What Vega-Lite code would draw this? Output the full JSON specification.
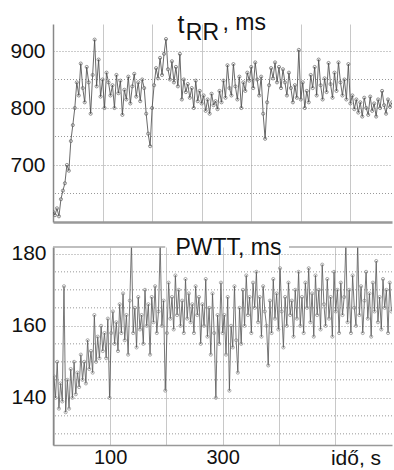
{
  "$schema": "https://vega.github.io/schema/vega-lite/v6.json",
  "padding": {"left": 9, "top": 11, "right": 0, "bottom": 0},
  "background": "white",
  "bounds": "flush",
  "spacing": 25,
  "config": {
    "view": {"stroke": null},
    "font": "Liberation Sans",
    "axis": {"labelFont": "Liberation Sans", "labelFontSize": 21, "labelColor": "#111", "title": null, "ticks": false, "labelPadding": 8, "domainColor": "#888", "domainWidth": 1.5, "labelFlush": false, "labelOverlap": false}
  },
  "datasets": {
    "rr": [
      {"t":0,"v":618},{"t":4,"v":612},{"t":8,"v":624},{"t":12,"v":610},{"t":16,"v":640},{"t":20,"v":655},{"t":24,"v":668},{"t":28,"v":700},{"t":32,"v":690},{"t":36,"v":742},{"t":40,"v":770},{"t":44,"v":800},{"t":48,"v":845},{"t":52,"v":822},{"t":56,"v":878},{"t":60,"v":835},{"t":64,"v":810},{"t":68,"v":872},{"t":72,"v":845},{"t":76,"v":790},{"t":80,"v":858},{"t":84,"v":920},{"t":88,"v":838},{"t":92,"v":885},{"t":96,"v":820},{"t":100,"v":850},{"t":104,"v":800},{"t":108,"v":862},{"t":112,"v":845},{"t":116,"v":822},{"t":120,"v":840},{"t":124,"v":800},{"t":128,"v":858},{"t":132,"v":826},{"t":136,"v":848},{"t":140,"v":788},{"t":144,"v":832},{"t":148,"v":815},{"t":152,"v":855},{"t":156,"v":808},{"t":160,"v":838},{"t":164,"v":860},{"t":168,"v":820},{"t":172,"v":845},{"t":176,"v":812},{"t":180,"v":850},{"t":184,"v":835},{"t":188,"v":790},{"t":192,"v":755},{"t":196,"v":733},{"t":200,"v":800},{"t":204,"v":840},{"t":208,"v":870},{"t":212,"v":852},{"t":216,"v":888},{"t":220,"v":858},{"t":224,"v":895},{"t":228,"v":921},{"t":232,"v":868},{"t":236,"v":850},{"t":240,"v":882},{"t":244,"v":845},{"t":248,"v":872},{"t":252,"v":838},{"t":256,"v":895},{"t":260,"v":815},{"t":264,"v":850},{"t":268,"v":828},{"t":272,"v":842},{"t":276,"v":818},{"t":280,"v":835},{"t":284,"v":800},{"t":288,"v":848},{"t":292,"v":812},{"t":296,"v":830},{"t":300,"v":808},{"t":304,"v":822},{"t":308,"v":795},{"t":312,"v":815},{"t":316,"v":790},{"t":320,"v":825},{"t":324,"v":805},{"t":328,"v":812},{"t":332,"v":798},{"t":336,"v":830},{"t":340,"v":810},{"t":344,"v":848},{"t":348,"v":818},{"t":352,"v":875},{"t":356,"v":835},{"t":360,"v":822},{"t":364,"v":877},{"t":368,"v":838},{"t":372,"v":815},{"t":376,"v":855},{"t":380,"v":800},{"t":384,"v":845},{"t":388,"v":830},{"t":392,"v":862},{"t":396,"v":848},{"t":400,"v":872},{"t":404,"v":835},{"t":408,"v":880},{"t":412,"v":850},{"t":416,"v":822},{"t":420,"v":855},{"t":424,"v":790},{"t":428,"v":746},{"t":432,"v":810},{"t":436,"v":840},{"t":440,"v":870},{"t":444,"v":852},{"t":448,"v":880},{"t":452,"v":845},{"t":456,"v":872},{"t":460,"v":835},{"t":464,"v":868},{"t":468,"v":845},{"t":472,"v":822},{"t":476,"v":862},{"t":480,"v":835},{"t":484,"v":810},{"t":488,"v":840},{"t":492,"v":818},{"t":496,"v":902},{"t":500,"v":815},{"t":504,"v":845},{"t":508,"v":800},{"t":512,"v":830},{"t":516,"v":810},{"t":520,"v":858},{"t":524,"v":835},{"t":528,"v":872},{"t":532,"v":822},{"t":536,"v":885},{"t":540,"v":840},{"t":544,"v":815},{"t":548,"v":852},{"t":552,"v":828},{"t":556,"v":879},{"t":560,"v":842},{"t":564,"v":818},{"t":568,"v":862},{"t":572,"v":830},{"t":576,"v":880},{"t":580,"v":845},{"t":584,"v":822},{"t":588,"v":850},{"t":592,"v":815},{"t":596,"v":877},{"t":600,"v":808},{"t":604,"v":822},{"t":608,"v":798},{"t":612,"v":815},{"t":616,"v":792},{"t":620,"v":810},{"t":624,"v":785},{"t":628,"v":818},{"t":632,"v":800},{"t":636,"v":788},{"t":640,"v":820},{"t":644,"v":795},{"t":648,"v":808},{"t":652,"v":785},{"t":656,"v":815},{"t":660,"v":800},{"t":664,"v":830},{"t":668,"v":805},{"t":672,"v":790},{"t":676,"v":815},{"t":680,"v":802},{"t":684,"v":810}
    ],
    "pw": [
      {"t":0,"v":146},{"t":3,"v":140},{"t":6,"v":150},{"t":9,"v":137},{"t":12,"v":144},{"t":15,"v":139},{"t":18,"v":171},{"t":21,"v":136},{"t":24,"v":145},{"t":27,"v":137},{"t":30,"v":148},{"t":33,"v":140},{"t":36,"v":150},{"t":39,"v":141},{"t":42,"v":147},{"t":45,"v":143},{"t":48,"v":152},{"t":51,"v":145},{"t":54,"v":150},{"t":57,"v":144},{"t":60,"v":156},{"t":63,"v":148},{"t":66,"v":153},{"t":69,"v":147},{"t":72,"v":163},{"t":75,"v":150},{"t":78,"v":157},{"t":81,"v":151},{"t":84,"v":160},{"t":87,"v":153},{"t":90,"v":158},{"t":93,"v":151},{"t":96,"v":162},{"t":99,"v":140},{"t":102,"v":158},{"t":105,"v":164},{"t":108,"v":155},{"t":111,"v":161},{"t":114,"v":153},{"t":117,"v":166},{"t":120,"v":158},{"t":123,"v":169},{"t":126,"v":156},{"t":129,"v":163},{"t":132,"v":152},{"t":135,"v":167},{"t":138,"v":183},{"t":141,"v":158},{"t":144,"v":165},{"t":147,"v":154},{"t":150,"v":168},{"t":153,"v":159},{"t":156,"v":163},{"t":159,"v":155},{"t":162,"v":170},{"t":165,"v":160},{"t":168,"v":166},{"t":171,"v":152},{"t":174,"v":168},{"t":177,"v":161},{"t":180,"v":171},{"t":183,"v":158},{"t":186,"v":164},{"t":189,"v":183},{"t":192,"v":160},{"t":195,"v":167},{"t":198,"v":142},{"t":201,"v":158},{"t":204,"v":172},{"t":207,"v":162},{"t":210,"v":168},{"t":213,"v":159},{"t":216,"v":174},{"t":219,"v":163},{"t":222,"v":170},{"t":225,"v":160},{"t":228,"v":167},{"t":231,"v":158},{"t":234,"v":173},{"t":237,"v":162},{"t":240,"v":169},{"t":243,"v":161},{"t":246,"v":166},{"t":249,"v":158},{"t":252,"v":171},{"t":255,"v":163},{"t":258,"v":168},{"t":261,"v":155},{"t":264,"v":166},{"t":267,"v":160},{"t":270,"v":173},{"t":273,"v":157},{"t":276,"v":165},{"t":279,"v":152},{"t":282,"v":169},{"t":285,"v":158},{"t":288,"v":140},{"t":291,"v":163},{"t":294,"v":155},{"t":297,"v":172},{"t":300,"v":158},{"t":303,"v":163},{"t":306,"v":152},{"t":309,"v":168},{"t":312,"v":142},{"t":315,"v":160},{"t":318,"v":154},{"t":321,"v":171},{"t":324,"v":156},{"t":327,"v":147},{"t":330,"v":165},{"t":333,"v":155},{"t":336,"v":170},{"t":339,"v":160},{"t":342,"v":174},{"t":345,"v":163},{"t":348,"v":168},{"t":351,"v":158},{"t":354,"v":172},{"t":357,"v":165},{"t":360,"v":175},{"t":363,"v":161},{"t":366,"v":168},{"t":369,"v":157},{"t":372,"v":171},{"t":375,"v":164},{"t":378,"v":160},{"t":381,"v":149},{"t":384,"v":167},{"t":387,"v":158},{"t":390,"v":173},{"t":393,"v":162},{"t":396,"v":169},{"t":399,"v":159},{"t":402,"v":176},{"t":405,"v":164},{"t":408,"v":154},{"t":411,"v":168},{"t":414,"v":160},{"t":417,"v":172},{"t":420,"v":163},{"t":423,"v":167},{"t":426,"v":157},{"t":429,"v":170},{"t":432,"v":162},{"t":435,"v":175},{"t":438,"v":160},{"t":441,"v":168},{"t":444,"v":158},{"t":447,"v":172},{"t":450,"v":165},{"t":453,"v":176},{"t":456,"v":161},{"t":459,"v":169},{"t":462,"v":157},{"t":465,"v":174},{"t":468,"v":163},{"t":471,"v":170},{"t":474,"v":159},{"t":477,"v":177},{"t":480,"v":166},{"t":483,"v":160},{"t":486,"v":173},{"t":489,"v":162},{"t":492,"v":168},{"t":495,"v":157},{"t":498,"v":175},{"t":501,"v":164},{"t":504,"v":170},{"t":507,"v":158},{"t":510,"v":172},{"t":513,"v":163},{"t":516,"v":168},{"t":519,"v":183},{"t":522,"v":161},{"t":525,"v":170},{"t":528,"v":158},{"t":531,"v":174},{"t":534,"v":165},{"t":537,"v":160},{"t":540,"v":183},{"t":543,"v":163},{"t":546,"v":171},{"t":549,"v":158},{"t":552,"v":167},{"t":555,"v":175},{"t":558,"v":162},{"t":561,"v":169},{"t":564,"v":157},{"t":567,"v":172},{"t":570,"v":164},{"t":573,"v":178},{"t":576,"v":161},{"t":579,"v":168},{"t":582,"v":159},{"t":585,"v":173},{"t":588,"v":165},{"t":591,"v":170},{"t":594,"v":158},{"t":597,"v":172},{"t":600,"v":164}
    ]
  },
  "vconcat": [
    {
      "width": 339,
      "height": 198,
      "layer": [
        {
          "data": {"values": [{"g": 650}, {"g": 750}, {"g": 850}]},
          "mark": {"type": "rule", "color": "#999", "strokeDash": [1, 2], "strokeWidth": 1},
          "encoding": {"y": {"field": "g", "type": "quantitative"}}
        },
        {
          "data": {"name": "rr"},
          "mark": {"type": "line", "color": "#444", "strokeWidth": 0.8, "clip": true, "point": {"filled": false, "stroke": "#666", "size": 10, "strokeWidth": 0.7}},
          "encoding": {
            "x": {"field": "t", "type": "quantitative", "scale": {"domain": [0, 684], "nice": false, "zero": false}, "axis": {"values": [100, 200, 300, 400, 500, 600], "labels": false, "grid": true, "gridColor": "#c8c8c8", "gridWidth": 1, "domainColor": "#999", "domainWidth": 2.5}},
            "y": {"field": "v", "type": "quantitative", "scale": {"domain": [600, 947.4], "nice": false, "zero": false}, "axis": {"values": [700, 800, 900], "labels": true, "grid": true, "gridColor": "#999", "gridDash": [1, 2], "gridWidth": 1}}
          }
        },
        {
          "data": {"values": [{"s": "t"}]},
          "mark": {"type": "text", "align": "left", "baseline": "alphabetic", "fontSize": 25, "color": "#111"},
          "encoding": {"x": {"datum": 251, "type": "quantitative"}, "y": {"datum": 931.6, "type": "quantitative"}, "text": {"field": "s"}}
        },
        {
          "data": {"values": [{"s": "RR"}]},
          "mark": {"type": "text", "align": "left", "baseline": "alphabetic", "fontSize": 23, "color": "#111"},
          "encoding": {"x": {"datum": 268, "type": "quantitative"}, "y": {"datum": 919.3, "type": "quantitative"}, "text": {"field": "s"}}
        },
        {
          "data": {"values": [{"s": ", ms"}]},
          "mark": {"type": "text", "align": "left", "baseline": "alphabetic", "fontSize": 23, "color": "#111"},
          "encoding": {"x": {"datum": 342, "type": "quantitative"}, "y": {"datum": 937.5, "type": "quantitative"}, "text": {"field": "s"}}
        }
      ]
    },
    {
      "width": 339,
      "height": 198,
      "layer": [
        {
          "data": {"values": [{"g": 130}, {"g": 135}, {"g": 145}, {"g": 150}, {"g": 155}, {"g": 165}, {"g": 170}, {"g": 175}]},
          "mark": {"type": "rule", "color": "#999", "strokeDash": [1, 2], "strokeWidth": 1},
          "encoding": {"y": {"field": "g", "type": "quantitative"}}
        },
        {
          "data": {"name": "pw"},
          "mark": {"type": "line", "color": "#555", "strokeWidth": 0.8, "clip": true, "point": {"filled": false, "stroke": "#888", "size": 10, "strokeWidth": 0.7}},
          "encoding": {
            "x": {"field": "t", "type": "quantitative", "scale": {"domain": [-1.5, 601], "nice": false, "zero": false}, "axis": {"values": [0, 100, 200, 300, 400, 500], "labelExpr": "datum.value == 100 || datum.value == 300 ? datum.label : ''", "labelPadding": 2, "labelFontSize": 20, "grid": true, "gridColor": "#c8c8c8", "gridWidth": 1, "domainColor": "#999", "domainWidth": 1.5}},
            "y": {"field": "v", "type": "quantitative", "scale": {"domain": [126.9, 181.9], "nice": false, "zero": false}, "axis": {"values": [140, 160, 180], "labels": true, "grid": true, "gridColor": "#999", "gridDash": [1, 2], "gridWidth": 1, "labelPadding": 7}}
          }
        },
        {
          "data": {"values": [{"a": -1.5, "b": 198}, {"a": 418, "b": 601}]},
          "mark": {"type": "rule", "color": "#aaa", "strokeWidth": 1.5},
          "encoding": {"x": {"field": "a", "type": "quantitative"}, "x2": {"field": "b"}, "y": {"datum": 181.9, "type": "quantitative"}}
        },
        {
          "data": {"values": [{"s": "PWTT, ms"}]},
          "mark": {"type": "text", "align": "left", "baseline": "alphabetic", "fontSize": 23, "color": "#111"},
          "encoding": {"x": {"datum": 216, "type": "quantitative"}, "y": {"datum": 179.7, "type": "quantitative"}, "text": {"field": "s"}}
        },
        {
          "data": {"values": [{"s": "idő, s"}]},
          "mark": {"type": "text", "align": "center", "baseline": "alphabetic", "fontSize": 21, "color": "#111"},
          "encoding": {"x": {"datum": 537, "type": "quantitative"}, "y": {"datum": 121.3, "type": "quantitative"}, "text": {"field": "s"}}
        }
      ]
    }
  ]
}
